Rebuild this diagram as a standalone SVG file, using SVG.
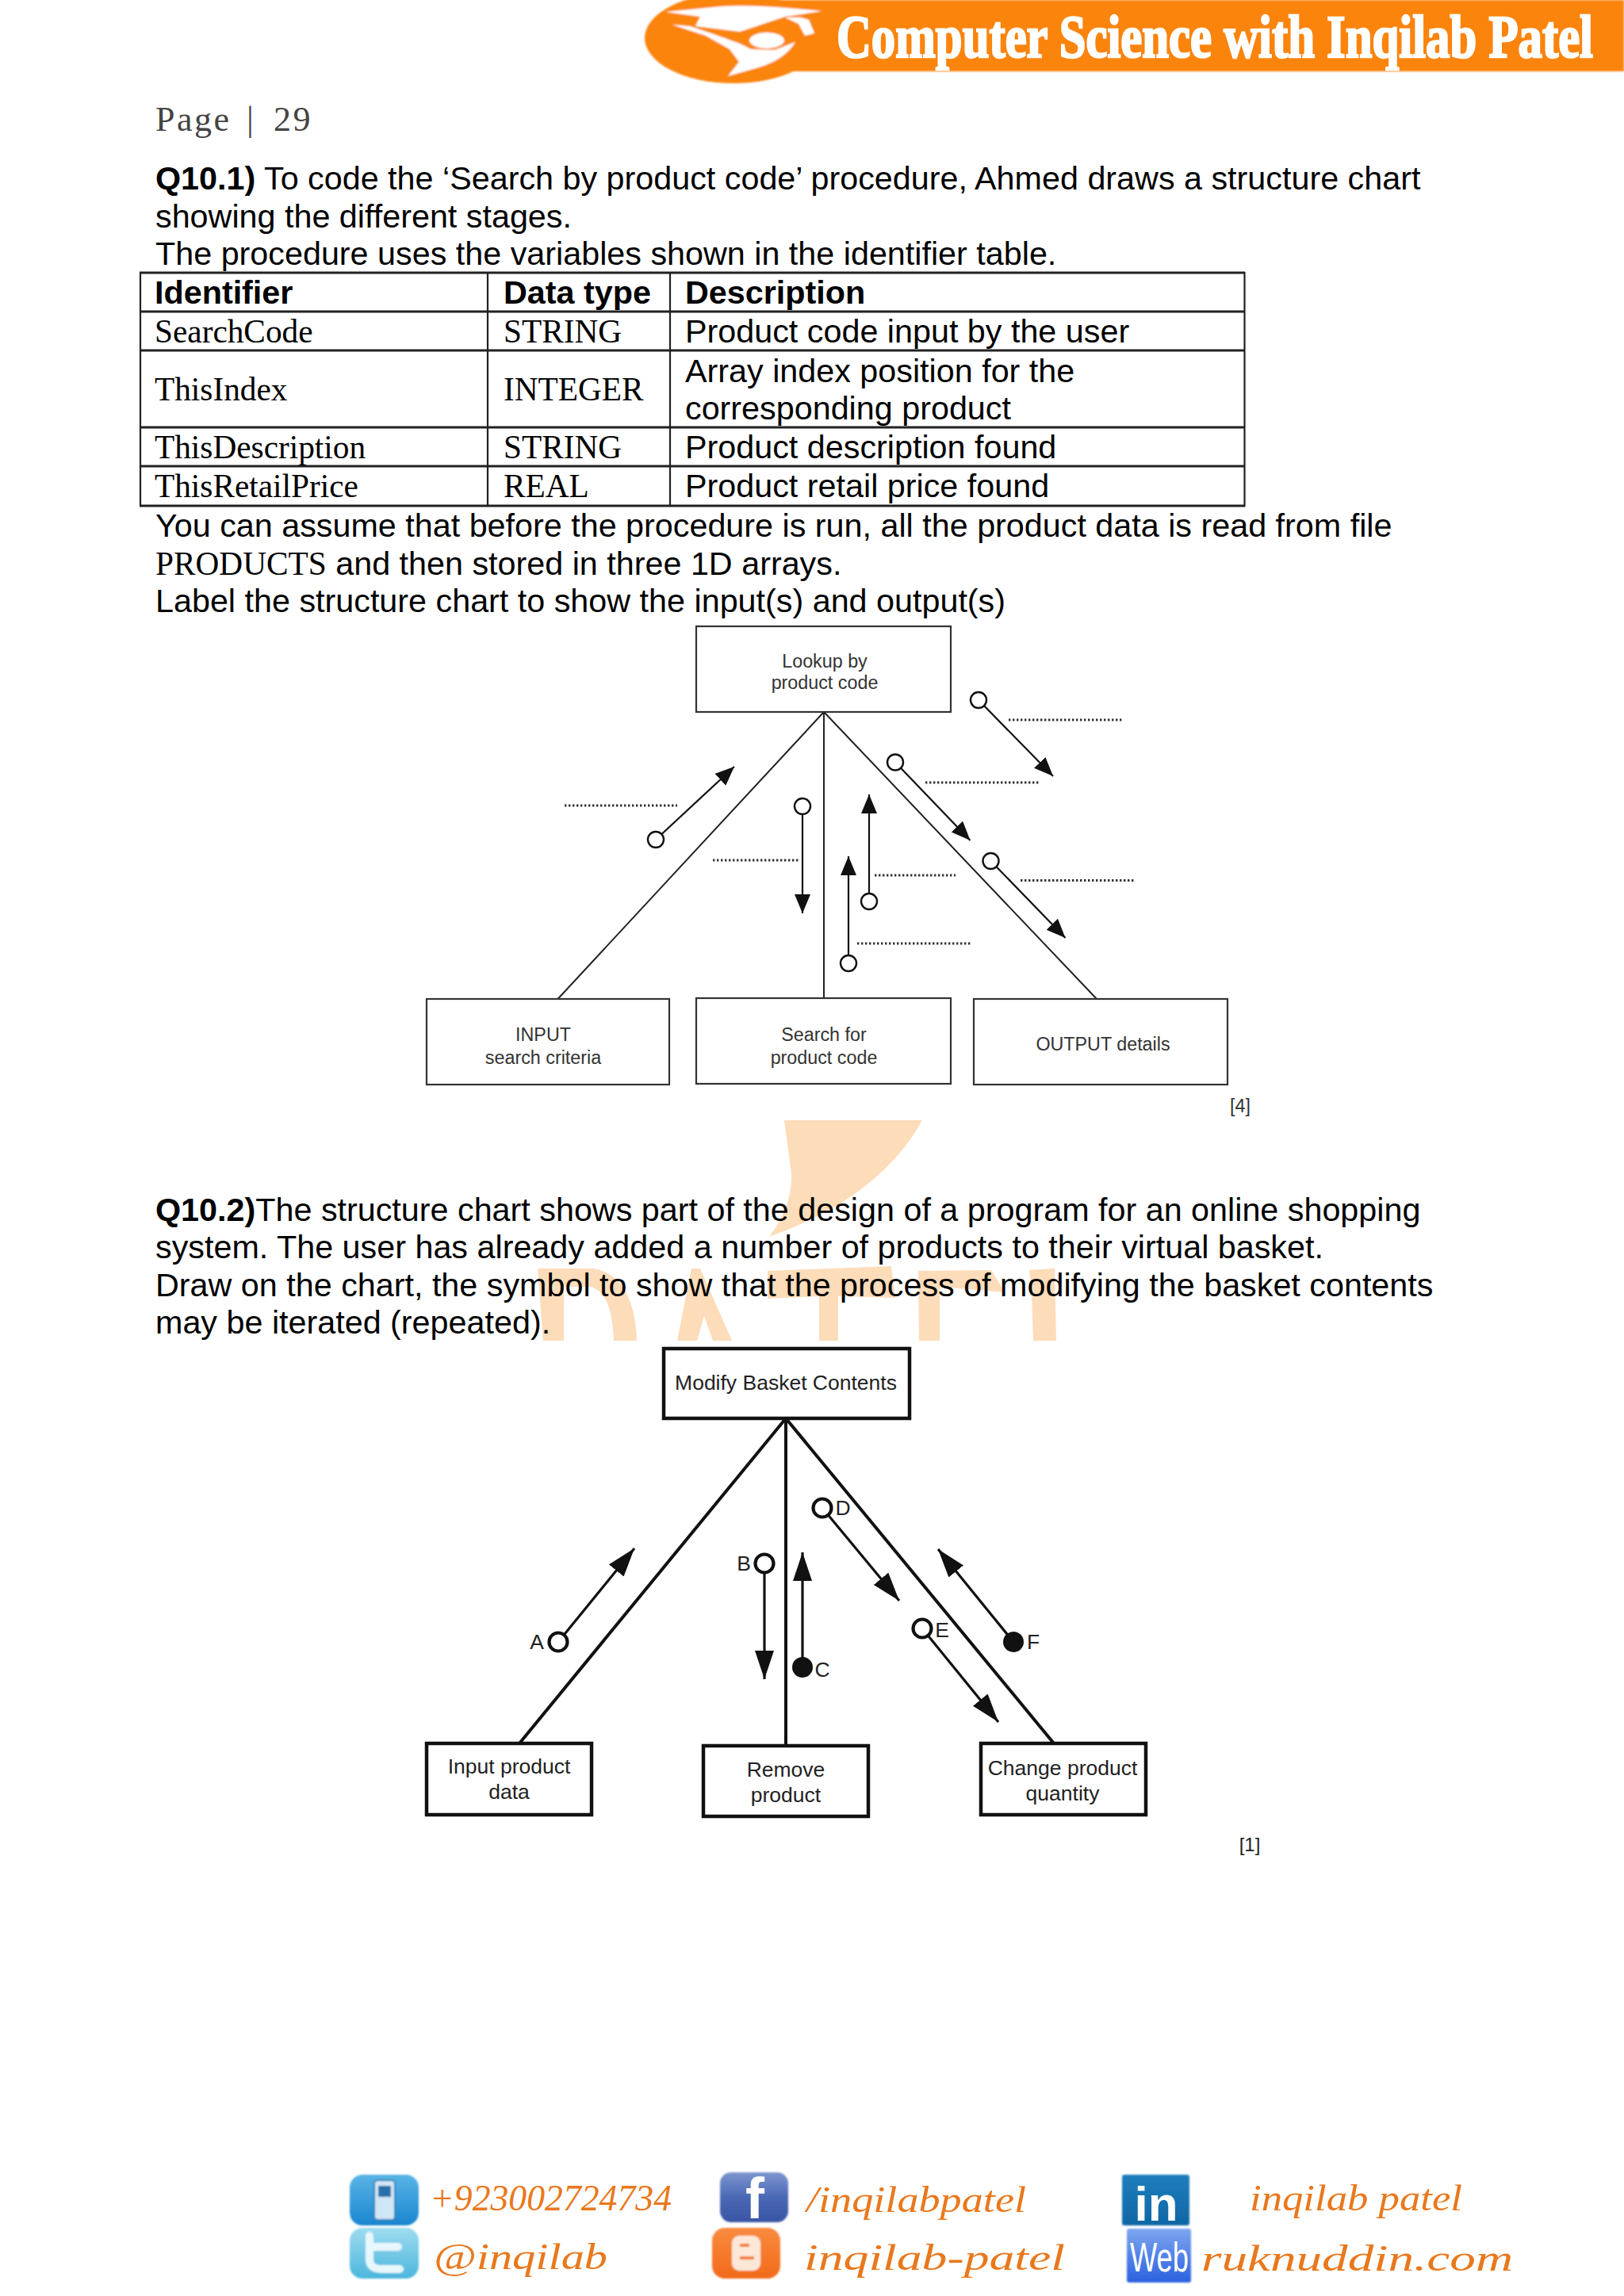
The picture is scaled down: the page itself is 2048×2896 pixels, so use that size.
<svg xmlns="http://www.w3.org/2000/svg" width="2048" height="2896" viewBox="0 0 2048 2896">
<style>
.b{font-family:"Liberation Sans",Arial,sans-serif;font-size:41.3px;fill:#000}
.bb{font-weight:bold}
.t{font-family:"Liberation Serif","Times New Roman",serif;font-size:41.3px;fill:#000}
.n{font-family:"Liberation Sans",Arial,sans-serif;font-size:23.3px;fill:#333;text-anchor:middle}
.m{font-family:"Liberation Sans",Arial,sans-serif;font-size:26.5px;fill:#222;text-anchor:middle}
.box{fill:#fff;stroke:#333;stroke-width:2.2}
.box2{fill:#fff;stroke:#111;stroke-width:4.5}
.l1{stroke:#222;stroke-width:2;fill:none}
.l2{stroke:#111;stroke-width:4;fill:none}
.a1{stroke:#111;stroke-width:2.2;fill:none;marker-end:url(#h1)}
.a2{stroke:#111;stroke-width:3.2;fill:none;marker-end:url(#h2)}
.c1{fill:#fff;stroke:#111;stroke-width:2.4}
.c2{fill:#fff;stroke:#111;stroke-width:4.2}
.cf{fill:#111;stroke:#111;stroke-width:2}
.d{stroke:#333;stroke-width:3;stroke-dasharray:2.4 2.6;fill:none}
.g{stroke:#222;stroke-width:2.2;fill:none}
.g3{stroke:#222;stroke-width:2.8;fill:none}
.wm{fill:#fddcb9}
.f{font-family:"Liberation Serif","Times New Roman",serif;font-style:italic;font-size:46px;fill:#e9781c}
.ic{font-family:"Liberation Sans",Arial,sans-serif;font-weight:bold;fill:#fff}
</style>
<defs>
<marker id="h1" markerUnits="userSpaceOnUse" markerWidth="26" markerHeight="22" refX="24" refY="10" orient="auto"><path d="M0 0L24 10L0 20Z" fill="#111"/></marker>
<marker id="h2" markerUnits="userSpaceOnUse" markerWidth="38" markerHeight="26" refX="36" refY="12" orient="auto"><path d="M0 0L36 12L0 24Z" fill="#111"/></marker>
<linearGradient id="gPhone" x1="0" y1="0" x2="0" y2="1"><stop offset="0" stop-color="#5ab4e6"/><stop offset="1" stop-color="#1a86cf"/></linearGradient>
<linearGradient id="gTw" x1="0" y1="0" x2="0" y2="1"><stop offset="0" stop-color="#9fdcef"/><stop offset="1" stop-color="#4cb6dd"/></linearGradient>
<linearGradient id="gFb" x1="0" y1="0" x2="0" y2="1"><stop offset="0" stop-color="#7d96d0"/><stop offset=".5" stop-color="#4a68b4"/><stop offset="1" stop-color="#3a55a5"/></linearGradient>
<linearGradient id="gBl" x1="0" y1="0" x2="0" y2="1"><stop offset="0" stop-color="#f98b3e"/><stop offset="1" stop-color="#f26a1a"/></linearGradient>
<linearGradient id="gIn" x1="0" y1="0" x2="0" y2="1"><stop offset="0" stop-color="#1f7ebd"/><stop offset="1" stop-color="#0f66a4"/></linearGradient>
<linearGradient id="gWeb" x1="0" y1="0" x2="0" y2="1"><stop offset="0" stop-color="#7ea6ef"/><stop offset="1" stop-color="#2b62e0"/></linearGradient>
<filter id="soft" x="-5%" y="-5%" width="110%" height="110%"><feGaussianBlur stdDeviation="0.9"/></filter>
</defs>
<rect width="2048" height="2896" fill="#fff"/>

<g id="watermark">
<path class="wm" d="M678 1600L749 1600Q800 1610 803 1691L774 1691Q772 1630 745 1623L711 1623L711 1691L685 1691Z"/>
<path class="wm" d="M872 1600L883 1600L923 1691L899 1691L888 1660L879 1691L854 1691Z"/>
<path class="wm" d="M968 1603L1124 1597L1129 1637L1057 1635L1057 1691L1033 1691L1033 1635L968 1638Z"/>
<path class="wm" d="M1158 1603L1250 1602L1267 1630L1185 1623L1185 1691L1159 1691Z"/>
<path class="wm" d="M1298 1602L1330 1600L1332 1691L1303 1691L1301 1630Z"/>
<path class="wm" d="M989 1413L1163 1413Q1110 1510 970 1560Q1000 1520 998 1480Z"/>
</g>

<g id="header" filter="url(#soft)">
<ellipse cx="925" cy="48" rx="112" ry="57" fill="#fb8410"/>
<rect x="925" y="0" width="1123" height="90" fill="#fb8410"/>
<path fill="#fff" d="M839 15L910 8Q950 5 1037 14L990 21L933 40L877 33L883 21Z"/>
<path fill="#fff" d="M990 22L1010 22L1020 25L1027 42L1015 45L1007 30Z"/>
<path fill="#fff" d="M847 31L870 33L897 42L933 55L947 62L977 63L1003 53Q990 75 957 85L918 96L932 78L920 62L890 45Z"/>
<ellipse cx="967" cy="51" rx="22" ry="10" fill="#fff"/>
</g>
<text id="brand" transform="translate(1055 72) scale(.75 1)" x="0" y="0" font-family="'Liberation Serif','Times New Roman',serif" font-weight="bold" font-size="76" fill="#fff" stroke="#fff" stroke-width="2.5" textLength="1272" lengthAdjust="spacingAndGlyphs">Computer Science with Inqilab Patel</text>

<text x="196" y="165" font-family="'Liberation Serif','Times New Roman',serif" font-size="44" letter-spacing="2.5" fill="#444">Page<tspan x="311">|</tspan><tspan x="345">29</tspan></text>

<g id="q1-text">
<text class="b" x="196" y="239"><tspan class="bb">Q10.1)</tspan> To code the ‘Search by product code’ procedure, Ahmed draws a structure chart</text>
<text class="b" x="196" y="287">showing the different stages.</text>
<text class="b" x="196" y="334">The procedure uses the variables shown in the identifier table.</text>
<text class="b" x="196" y="677">You can assume that before the procedure is run, all the product data is read from file</text>
<text class="b" x="196" y="725"><tspan class="t">PRODUCTS</tspan> and then stored in three 1D arrays.</text>
<text class="b" x="196" y="772">Label the structure chart to show the input(s) and output(s)</text>
</g>

<g id="table">
<path class="g3" d="M176 344H1570M176 393H1570M176 442H1570M176 539H1570M176 588H1570M176 638H1570"/>
<path class="g" d="M177 343V639M615 344V638M845 344V638M1569.500 343V639"/>
<text class="b bb" x="195" y="383">Identifier</text>
<text class="b bb" x="635" y="383">Data type</text>
<text class="b bb" x="864" y="383">Description</text>
<text class="t" x="195" y="432">SearchCode</text>
<text class="t" x="635" y="432">STRING</text>
<text class="b" x="864" y="432">Product code input by the user</text>
<text class="t" x="195" y="505">ThisIndex</text>
<text class="t" x="635" y="505">INTEGER</text>
<text class="b" x="864" y="482">Array index position for the</text>
<text class="b" x="864" y="529">corresponding product</text>
<text class="t" x="195" y="578">ThisDescription</text>
<text class="t" x="635" y="578">STRING</text>
<text class="b" x="864" y="578">Product description found</text>
<text class="t" x="195" y="627">ThisRetailPrice</text>
<text class="t" x="635" y="627">REAL</text>
<text class="b" x="864" y="627">Product retail price found</text>
</g>

<g id="connectors-chart1">
<path class="l1" d="M1039 898L703.500 1260M1039 898V1259M1039 898L1383 1260"/>
<path class="a1" d="M1234 883L1328 979"/>
<path class="a1" d="M1129 961.500L1223.500 1060"/>
<path class="a1" d="M1249.500 1086L1343.500 1183"/>
<path class="a1" d="M827 1059L926 967"/>
<path class="a1" d="M1012 1017V1152"/>
<path class="a1" d="M1096 1137V1002"/>
<path class="a1" d="M1070 1215V1080"/>
<circle class="c1" cx="1234" cy="883" r="10"/>
<circle class="c1" cx="1129" cy="961.500" r="10"/>
<circle class="c1" cx="1249.500" cy="1086" r="10"/>
<circle class="c1" cx="827" cy="1059" r="10"/>
<circle class="c1" cx="1012" cy="1017" r="10"/>
<circle class="c1" cx="1096" cy="1137" r="10"/>
<circle class="c1" cx="1070" cy="1215" r="10"/>
<path class="d" d="M1272 908H1416M1167 987H1310M712 1016H854M899 1085H1009M1103 1104H1205M1081 1190H1224M1287 1110.500H1431"/>
</g>

<g id="n-lookup"><rect class="box" x="878" y="790" width="321" height="108"/><text class="n" x="1040" y="842">Lookup by</text><text class="n" x="1040" y="869">product code</text></g>
<g id="n-input"><rect class="box" x="538" y="1260" width="306" height="108"/><text class="n" x="685" y="1313">INPUT</text><text class="n" x="685" y="1342">search criteria</text></g>
<g id="n-search"><rect class="box" x="878" y="1259" width="321" height="108"/><text class="n" x="1039" y="1313">Search for</text><text class="n" x="1039" y="1342">product code</text></g>
<g id="n-output"><rect class="box" x="1228" y="1260" width="320" height="108"/><text class="n" x="1391" y="1325">OUTPUT details</text></g>
<text class="n" x="1564" y="1403">[4]</text>

<g id="q2-text">
<text class="b" x="196" y="1540"><tspan class="bb">Q10.2)</tspan>The structure chart shows part of the design of a program for an online shopping</text>
<text class="b" x="196" y="1587">system. The user has already added a number of products to their virtual basket.</text>
<text class="b" x="196" y="1635">Draw on the chart, the symbol to show that the process of modifying the basket contents</text>
<text class="b" x="196" y="1682">may be iterated (repeated).</text>
</g>

<g id="connectors-chart2">
<path class="l2" d="M991 1789L655 2199M991 1789V2202M991 1789L1329 2199"/>
<path class="a2" d="M704 2071L800 1953"/>
<path class="a2" d="M964 1972V2118"/>
<path class="a2" d="M1012 2103V1958"/>
<path class="a2" d="M1037 1902L1134 2019"/>
<path class="a2" d="M1163 2054L1259 2172"/>
<path class="a2" d="M1278 2071L1183 1954"/>
<circle class="c2" cx="704" cy="2071" r="11.500"/>
<circle class="c2" cx="964" cy="1972" r="11.500"/>
<circle class="cf" cx="1012" cy="2103" r="12"/>
<circle class="c2" cx="1037" cy="1902" r="11.500"/>
<circle class="c2" cx="1163" cy="2054" r="11.500"/>
<circle class="cf" cx="1278" cy="2071" r="12"/>
<text class="m" x="677" y="2080">A</text>
<text class="m" x="938" y="1981">B</text>
<text class="m" x="1037" y="2115">C</text>
<text class="m" x="1063" y="1911">D</text>
<text class="m" x="1188" y="2065">E</text>
<text class="m" x="1303" y="2080">F</text>
</g>

<g id="n-modify"><rect class="box2" x="837" y="1701" width="310" height="88"/><text class="m" x="991" y="1753">Modify Basket Contents</text></g>
<g id="n-inputdata"><rect class="box2" x="538" y="2199" width="208" height="90"/><text class="m" x="642" y="2237">Input product</text><text class="m" x="642" y="2269">data</text></g>
<g id="n-remove"><rect class="box2" x="887" y="2202" width="208" height="89"/><text class="m" x="991" y="2241">Remove</text><text class="m" x="991" y="2273">product</text></g>
<g id="n-change"><rect class="box2" x="1237" y="2199" width="208" height="90"/><text class="m" x="1340" y="2239">Change product</text><text class="m" x="1340" y="2271">quantity</text></g>
<text class="m" x="1576" y="2335" style="font-size:24px">[1]</text>

<g id="footer">
<g filter="url(#soft)">
<rect x="441" y="2743" width="87" height="64" rx="16" fill="url(#gPhone)"/>
<rect x="472" y="2750" width="26" height="50" rx="4" fill="#cfe6f5" stroke="#2d7fb8" stroke-width="2"/>
<rect x="477" y="2757" width="16" height="14" fill="#2a6fa8"/>
<rect x="441" y="2810" width="87" height="64" rx="16" fill="url(#gTw)"/>
<path d="M466 2820V2850Q466 2862 482 2862H504M466 2834H502" fill="none" stroke="#e8f7fc" stroke-width="10" stroke-linecap="round"/>
<rect x="908" y="2740" width="86" height="63" rx="14" fill="url(#gFb)"/>
<rect x="898" y="2810" width="86" height="64" rx="16" fill="url(#gBl)"/>
<rect x="923" y="2820" width="36" height="44" rx="9" fill="#fde8d8"/>
<rect x="933" y="2830" width="12" height="4" fill="#f47a28"/>
<rect x="933" y="2846" width="18" height="4" fill="#f47a28"/>
<rect x="1415" y="2743" width="85" height="64" rx="3" fill="url(#gIn)"/>
<rect x="1421" y="2811" width="81" height="68" rx="3" fill="url(#gWeb)"/>
</g>
<text class="ic" x="952" y="2798" text-anchor="middle" font-size="72">f</text>
<text class="ic" x="1458" y="2801" text-anchor="middle" font-size="62">in</text>
<text class="ic" x="1462" y="2865" text-anchor="middle" font-size="52" style="font-weight:normal" textLength="74" lengthAdjust="spacingAndGlyphs">Web</text>
<text class="f" x="542" y="2788" textLength="305" lengthAdjust="spacingAndGlyphs">+923002724734</text>
<text class="f" x="1017" y="2790" textLength="277" lengthAdjust="spacingAndGlyphs">/inqilabpatel</text>
<text class="f" x="1576" y="2788" textLength="268" lengthAdjust="spacingAndGlyphs">inqilab patel</text>
<text class="f" x="547" y="2862" textLength="219" lengthAdjust="spacingAndGlyphs">@inqilab</text>
<text class="f" x="1014" y="2863" textLength="329" lengthAdjust="spacingAndGlyphs">inqilab-patel</text>
<text class="f" x="1515" y="2864" textLength="393" lengthAdjust="spacingAndGlyphs">ruknuddin.com</text>
</g>
</svg>
